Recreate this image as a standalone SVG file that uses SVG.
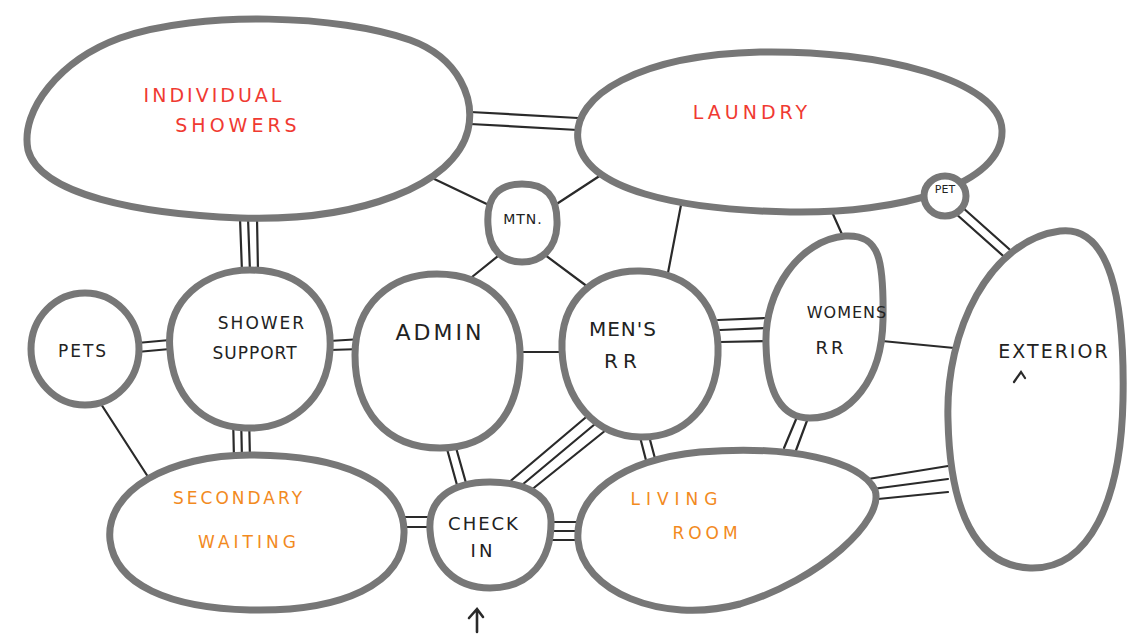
<svg xmlns="http://www.w3.org/2000/svg" width="1134" height="636" viewBox="0 0 1134 636">
<defs>
<style>
.bub{fill:#fff;stroke:#777;stroke-width:7}
.ln{stroke:#2a2a2a;stroke-width:2.2;fill:none;stroke-linecap:round}
.t{font-family:"DejaVu Sans",sans-serif;font-size:19px;fill:#222;text-anchor:middle;letter-spacing:2px}
.red{fill:#f03a32}
.org{fill:#f28a1e}
</style>
</defs>
<rect width="1134" height="636" fill="#fff"/>
<g id="connectors">
<path class="ln" d="M470 112 L578 118 M470 124 L578 130"/>
<path class="ln" d="M428 176 L493 207"/>
<path class="ln" d="M601 175 L552 207"/>
<path class="ln" d="M681 205 L667 278"/>
<path class="ln" d="M832 212 L845 241"/>
<path class="ln" d="M904 158 L928 180 M912 152 L934 174"/>
<path class="ln" d="M955 213 L1010 262 M962 207 L1017 256"/>
<path class="ln" d="M503 252 L472 277"/>
<path class="ln" d="M541 252 L592 290"/>
<path class="ln" d="M240 218 L242 272 M248 218 L250 272 M257 218 L258 272"/>
<path class="ln" d="M137 343 L170 340 M137 352 L170 349"/>
<path class="ln" d="M329 341 L362 339 M329 350 L362 349"/>
<path class="ln" d="M519 352 L562 352"/>
<path class="ln" d="M718 320 L766 318 M720 330 L766 328 M720 342 L766 341"/>
<path class="ln" d="M882 341 L975 350"/>
<path class="ln" d="M797 417 L784 448 M808 418 L795 453"/>
<path class="ln" d="M101 404 L152 483"/>
<path class="ln" d="M233 414 L234 460 M241 414 L242 460 M249 414 L250 460"/>
<path class="ln" d="M444 438 L457 485 M453 437 L466 483"/>
<path class="ln" d="M585 418 L507 484 M595 424 L516 490 M606 430 L525 495"/>
<path class="ln" d="M640 437 L648 468 M649 436 L657 466"/>
<path class="ln" d="M384 517 L433 517 M384 527 L433 527"/>
<path class="ln" d="M549 522 L588 522 M549 531 L588 531 M549 540 L588 540"/>
<path class="ln" d="M862 480 L948 466 M865 490 L948 479 M868 500 L948 492"/>
</g>
<g id="individual-showers">
<path class="bub" d="M28 150 C20 110 60 60 120 38 C200 10 340 15 410 40 C460 58 475 100 468 130 C455 185 360 222 240 218 C140 214 40 195 28 150 Z"/>
<text class="t red" x="214" y="102" style="letter-spacing:3px">INDIVIDUAL</text>
<text class="t red" x="238" y="132" style="letter-spacing:4px">SHOWERS</text>
</g>
<g id="laundry">
<path class="bub" d="M578 140 C572 95 640 55 760 52 C880 50 1000 80 1002 130 C1004 185 900 214 790 212 C680 210 584 190 578 140 Z"/>
<text class="t red" x="752" y="119" style="letter-spacing:4px">LAUNDRY</text>
</g>
<g id="pet">
<ellipse class="bub" cx="945" cy="196" rx="21" ry="20"/>
<text class="t" x="945" y="193" style="font-size:11px;letter-spacing:0">PET</text>
</g>
<g id="mtn">
<path class="bub" d="M488 225 C486 195 500 184 522 184 C545 184 558 195 557 225 C556 250 540 262 522 262 C503 262 489 250 488 225 Z"/>
<text class="t" x="523" y="224" style="font-size:14px;letter-spacing:1px">MTN.</text>
</g>
<g id="pets">
<ellipse class="bub" cx="85" cy="349" rx="54" ry="56"/>
<text class="t" x="83" y="357" style="font-size:17px">PETS</text>
</g>
<g id="shower-support">
<path class="bub" d="M170 350 C165 300 205 270 250 270 C300 270 333 300 330 350 C327 400 290 430 245 428 C200 426 173 395 170 350 Z"/>
<text class="t" x="262" y="329" style="font-size:17px">SHOWER</text>
<text class="t" x="255" y="359" style="font-size:17px;letter-spacing:1px">SUPPORT</text>
</g>
<g id="admin">
<path class="bub" d="M355 355 C355 305 390 274 437 274 C490 274 522 310 520 360 C518 415 490 448 440 448 C385 448 355 410 355 355 Z"/>
<text class="t" x="440" y="340" style="font-size:22px;letter-spacing:3px">ADMIN</text>
</g>
<g id="mens-rr">
<path class="bub" d="M562 350 C560 300 595 270 640 271 C690 272 720 305 718 355 C716 405 685 438 640 437 C595 436 564 400 562 350 Z"/>
<text class="t" x="623" y="336" style="font-size:20px;letter-spacing:1px">MEN'S</text>
<text class="t" x="623" y="368" style="font-size:20px;letter-spacing:5px">RR</text>
</g>
<g id="womens-rr">
<path class="bub" d="M766 345 C764 290 800 240 845 236 C880 234 884 260 883 320 C882 380 850 418 810 418 C780 418 767 390 766 345 Z"/>
<text class="t" x="847" y="318" style="font-size:16px;letter-spacing:1px">WOMENS</text>
<text class="t" x="831" y="354" style="font-size:18px;letter-spacing:3px">RR</text>
</g>
<g id="exterior">
<path class="bub" d="M948 420 C945 330 990 240 1060 231 C1110 225 1125 300 1123 400 C1121 500 1090 570 1030 568 C975 566 950 510 948 420 Z"/>
<text class="t" x="1054" y="358" style="font-size:19px;letter-spacing:2px">EXTERIOR</text>
<path class="ln" d="M1014 382 L1021 372 L1025 378"/>
</g>
<g id="secondary-waiting">
<path class="bub" d="M110 540 C105 490 170 455 250 455 C340 455 402 480 404 530 C406 585 340 612 250 610 C170 608 115 585 110 540 Z"/>
<text class="t org" x="239" y="504" style="font-size:17px;letter-spacing:3px">SECONDARY</text>
<text class="t org" x="249" y="548" style="font-size:17px;letter-spacing:4px">WAITING</text>
</g>
<g id="check-in">
<path class="bub" d="M430 530 C428 500 450 482 490 482 C525 482 550 495 551 520 C552 560 530 588 490 588 C455 588 432 565 430 530 Z"/>
<text class="t" x="484" y="530" style="font-size:18px;letter-spacing:2px">CHECK</text>
<text class="t" x="483" y="557" style="font-size:18px;letter-spacing:3px">IN</text>
<path class="ln" d="M477 632 L477 611 M469 618 L477 609 L483 617" style="stroke-width:2.6"/>
</g>
<g id="living-room">
<path class="bub" d="M578 540 C575 495 620 460 700 452 C790 445 860 460 875 490 C885 520 820 580 740 604 C660 625 582 590 578 540 Z"/>
<text class="t org" x="677" y="505" style="font-size:17px;letter-spacing:6px">LIVING</text>
<text class="t org" x="707" y="539" style="font-size:17px;letter-spacing:4px">ROOM</text>
</g>
</svg>
